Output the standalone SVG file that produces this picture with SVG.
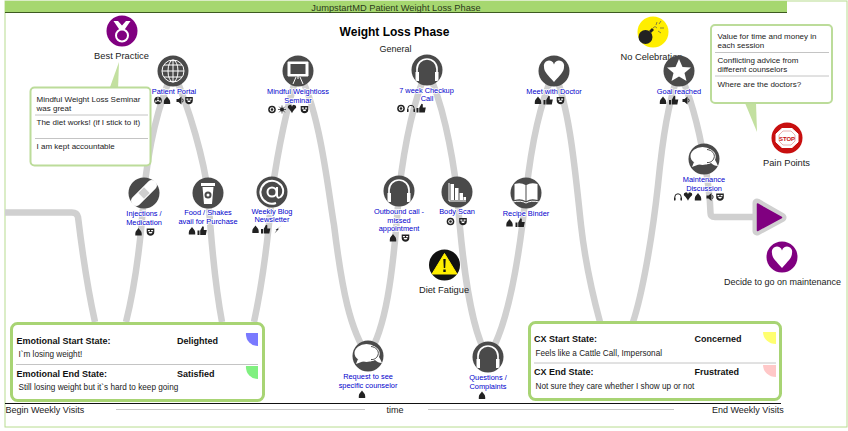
<svg xmlns="http://www.w3.org/2000/svg" xmlns:xlink="http://www.w3.org/1999/xlink" width="848" height="431" viewBox="0 0 848 431">
<style>
text{font-family:"Liberation Sans",Arial,sans-serif;fill:#222}
.c{text-anchor:middle}
.lb{font-size:7.400px;fill:#0000cc;text-anchor:middle;paint-order:stroke;stroke:#fff;stroke-width:1.500px}
.t{font-size:9.300px;text-anchor:middle}
.b{font-size:8px}
.h{font-size:9px;font-weight:bold;fill:#111}
.s{font-size:8.200px}
.conn{fill:none;stroke:#d0d0d0;stroke-width:6.500}
.disc{fill:#4a4a4a}
.w{fill:#fff}
.box{fill:#fff;stroke:#a8d474;stroke-width:3}
.sep{stroke:#c4c4c4;stroke-width:1}
.ic{fill:#222}
</style>
<defs>
<g id="i-f"><path class="ic" d="M0-4C1-2 3.200-1 3.200 1.500V3.500H-3.200V1.500C-3.200-1-1-2 0-4Z"/></g>
<g id="i-t"><path class="ic" d="M-4.500-.5H-2.500V4H-4.500ZM-1.800-.5L.5-4.800 1.800-4.300V-1H4.800L3.800 4H-1.800Z"/></g>
<g id="i-m"><path class="ic" d="M-3.800-3.500H3.800V0C3.800 2.500 2 3.800 0 3.800S-3.800 2.500-3.800 0Z"/><path class="w" d="M-2.600-2H-.6V-.8H-2.600ZM.6-2H2.600V-.8H.6ZM-2-.0H2L1 1.500H-1Z"/></g>
<g id="i-s"><path class="ic" d="M-3.500-1.500H-1.500L1.500-4V4L-1.500 1.500H-3.500Z"/><path d="M2.500-1.800Q3.800 0 2.500 1.800" fill="none" stroke="#222" stroke-width="1"/></g>
<g id="i-r"><circle r="3.800" class="ic"/><circle r="1" class="w"/><path class="w" d="M-.5-3.300H.5V-1.500H-.5ZM-3-.0L-1.500 0 -1.200 1 -2.400 2.200ZM3 0L1.500 0 1.200 1 2.400 2.200Z"/></g>
<g id="i-o"><circle r="3.800" class="ic"/><circle r="2.300" class="w"/><circle r="1.300" class="ic"/></g>
<g id="i-u"><circle r="2" class="ic"/><path d="M0-4V4M-4 0H4M-2.800-2.800L2.800 2.800M-2.800 2.800L2.800-2.800" stroke="#222" stroke-width=".7"/></g>
<g id="i-h"><path class="ic" d="M0 3.800C-2-.5-4.200-1-4.200-2.200A2.100 2.100 0 0 1 0-2.800A2.100 2.100 0 0 1 4.200-2.200C4.200-1 2-.5 0 3.800Z"/></g>
<g id="i-p"><path d="M-3.200 3V0A3.200 3.200 0 0 1 3.200 0V3" fill="none" stroke="#222" stroke-width="1"/><path class="ic" d="M-4 .8H-2.600V3.600H-4ZM2.600 .8H4V3.600H2.600Z"/></g>
<g id="i-b"><path class="ic" d="M3.500-4L-.5-.8H1L-3.500 4 -1.200 .5H-2.500Z"/></g>
<g id="big-head"><path d="M-10 6V-1A10 10 0 0 1 10-1V6" fill="none" stroke="#fff" stroke-width="1.700"/><path fill="#fff" d="M-11.500 2H-8V11H-10C-11 11-11.500 10-11.500 9ZM8 2H11.500V9C11.500 10 11 11 10 11H8Z"/></g>
<g id="big-chat"><ellipse cx="-1.500" cy="-2" rx="12" ry="9" fill="#fff"/><path d="M2-9.500C10-9 13.500-3 11 2C13 5 13 6 14 8C11 8 9 7 7 5C4 7 0 6 -2 5" fill="#fff"/><path d="M-10 4L-12 9 -4 6Z" fill="#fff"/><path d="M3-8.500C8-8 11.500-4 10 0C9 3 6 5 3 4.500" fill="none" stroke="#4a4a4a" stroke-width="1"/></g>
</defs>

<g id="frame">
<rect x="5" y="1" width="842" height="426" fill="#fff" stroke="#b8dc90" stroke-width="1"/>
<rect x="5" y="1" width="782" height="11.500" fill="#a6d770"/>
<path d="M5 12.500H787" stroke="#3d5a20" stroke-width="1"/>
<text x="396" y="10.500" class="c" style="font-size:9.300px;fill:#2b3a1a">JumpstartMD Patient Weight Loss Phase</text>
<text x="394.500" y="36" class="c" style="font-size:12px;font-weight:bold;fill:#000">Weight Loss Phase</text>
<text x="395.500" y="52" class="c" style="font-size:9px">General</text>
</g>

<g id="connectors">
<path class="conn" d="M5 212.500H72Q77 212.500 78 217C82 250 89 295 95 322"/>
<path class="conn" d="M126 322C134 290 141 240 144 193C148 150 156 110 173 71"/>
<path class="conn" d="M173 71C190 110 204 160 208 193C211 240 216 290 222 322"/>
<path class="conn" d="M254 322C262 285 268 240 272 192C278 150 286 110 298 71"/>
<path class="conn" d="M298 71C320 110 328 190 334 225C342 290 350 330 368 356"/>
<path class="conn" d="M368 356C385 330 393 280 399 191C405 140 414 100 427 70"/>
<path class="conn" d="M427 70C442 100 452 150 457 192C462 260 470 330 488 357"/>
<path class="conn" d="M488 357C506 330 518 270 526 193C532 140 540 105 554 71"/>
<path class="conn" d="M554 71C570 110 575 170 581 225C586 270 594 300 600 322"/>
<path class="conn" d="M633 322C642 295 652 240 658 185C663 135 668 105 679 71"/>
<path class="conn" d="M679 71C692 100 700 135 704 159C708 180 710 195 710.500 213Q710.500 217 715 217H760"/>
<path d="M757 203L782 217.500 757 231Z" fill="#d0d0d0" stroke="#d0d0d0" stroke-width="9" stroke-linejoin="round"/>
<path d="M757.500 204L781.500 217.500 757.500 230.500Z" fill="#800080" stroke="#800080" stroke-width="1.500" stroke-linejoin="round"/>
</g>

<g id="n-best-practice">
<circle cx="122" cy="31" r="15.500" fill="#800080"/>
<path d="M113.500 21L119 29H125L130.500 21H126L122 25.500 118 21Z" fill="#fff"/>
<circle cx="122" cy="35.500" r="6" fill="#800080" stroke="#fff" stroke-width="2"/>
<text x="121.500" y="59" class="t">Best Practice</text>
</g>
<g id="n-best-callout">
<path d="M109 90L119 62 118 90Z" fill="#c3e0a0"/>
<rect x="30.500" y="87.500" width="120" height="78" rx="4" fill="#fff" stroke="#bcdc9a" stroke-width="2"/>
<text x="36.500" y="101.500" class="b">Mindful Weight Loss Seminar</text>
<text x="36.500" y="111" class="b">was great</text>
<line x1="35" y1="115" x2="148" y2="115" class="sep"/>
<text x="36.500" y="125" class="b">The diet works! (if I stick to it)</text>
<line x1="35" y1="138.500" x2="148" y2="138.500" class="sep"/>
<text x="36.500" y="149" class="b">I am kept accountable</text>
</g>

<g id="n-patient-portal">
<circle cx="173" cy="71" r="15.500" class="disc"/>
<circle cx="173" cy="71" r="11" fill="none" stroke="#fff" stroke-width="1"/>
<ellipse cx="173" cy="71" rx="5" ry="11" fill="none" stroke="#fff" stroke-width="1"/>
<path d="M173 60V82M162 71H184M164 65H182M164 77H182" stroke="#fff" stroke-width="1"/>
<text x="174" y="94" class="lb">Patient Portal</text>
<use href="#i-r" x="158" y="100.500"/><use href="#i-f" x="167" y="100.500"/><use href="#i-s" x="180" y="100.500"/><use href="#i-m" x="189" y="100.500"/>
</g>

<g id="n-mindful-seminar">
<circle cx="298" cy="71" r="15.500" class="disc"/>
<path d="M288 62H308V76H288ZM298 76V79M293 84L296 77M303 84L300 77" fill="#fff" stroke="#fff"/>
<rect x="290.500" y="64" width="15" height="10" fill="#4a4a4a"/>
<text x="298" y="94" class="lb">Mindful Weightloss</text>
<text x="298" y="103" class="lb">Seminar</text>
<use href="#i-o" x="272" y="109.500"/><use href="#i-u" x="282" y="109.500"/><use href="#i-h" x="292" y="109.500"/><use href="#i-m" x="304.500" y="109.500"/>
</g>

<g id="n-checkup">
<circle cx="427" cy="70" r="15.500" class="disc"/>
<use href="#big-head" x="427" y="70"/>
<text x="426.500" y="92.500" class="lb">7 week Checkup</text>
<text x="427" y="101" class="lb">Call</text>
<use href="#i-o" x="401" y="108.500"/><use href="#i-p" x="411" y="108.500"/><use href="#i-t" x="421" y="108.500"/>
</g>

<g id="n-meet-doctor">
<circle cx="554" cy="71" r="15.500" class="disc"/>
<path d="M554 82C548 75 544 72 544 67A5 5 0 0 1 554 64.500A5 5 0 0 1 564 67C564 72 560 75 554 82Z" fill="#fff"/>
<text x="554" y="94" class="lb">Meet with Doctor</text>
<use href="#i-f" x="538" y="100.500"/><use href="#i-t" x="548" y="100.500"/><use href="#i-m" x="560.500" y="100.500"/>
</g>

<g id="n-no-celebration">
<circle cx="653" cy="32" r="15.500" fill="#ffee00"/>
<circle cx="645.500" cy="37" r="7" fill="#222"/>
<path d="M649 31L652 28 654 30 651 33Z" fill="#222"/>
<path d="M653 28Q655 25 657 28M659 24L661 21M660 28H664M658 31L661 33M657 22L656 25" fill="none" stroke="#555" stroke-width=".7"/>
<text x="651.500" y="60" class="t">No Celebration</text>
</g>

<g id="n-goal-reached">
<circle cx="679" cy="71" r="15.500" class="disc"/>
<path d="M679 59L682.500 67 691 67.500 684.500 73 686.500 81 679 76.500 671.500 81 673.500 73 667 67.500 675.500 67Z" fill="#fff"/>
<text x="679" y="94" class="lb">Goal reached</text>
<use href="#i-f" x="663" y="100.500"/><use href="#i-t" x="673.500" y="100.500"/><use href="#i-s" x="686" y="100.500"/>
</g>

<g id="n-pain-callout">
<path d="M745 103L757 132 756 103Z" fill="#c3e0a0"/>
<rect x="711" y="25" width="121" height="78" rx="4" fill="#fff" stroke="#bcdc9a" stroke-width="2"/>
<text x="717.500" y="39" class="b">Value for time and money in</text>
<text x="717.500" y="48" class="b">each session</text>
<line x1="715" y1="52.500" x2="829" y2="52.500" class="sep"/>
<text x="717.500" y="63" class="b">Conflicting advice from</text>
<text x="717.500" y="72" class="b">different counselors</text>
<line x1="715" y1="76" x2="829" y2="76" class="sep"/>
<text x="717.500" y="86.500" class="b">Where are the doctors?</text>
</g>

<g id="n-pain-points">
<circle cx="787" cy="138" r="15.500" fill="#c80f0f"/>
<path d="M782 128.500H792L798 134V142L792 147.500H782L776 142V134Z" fill="#fff" stroke="#fff"/>
<path d="M783 131H791L795 135V141L791 145H783L779 141V135Z" fill="#fff" stroke="#e8b0b0" stroke-width="1"/>
<text x="787" y="140.500" class="c" style="font-size:6px;font-weight:bold;fill:#c80f0f">STOP</text>
<text x="786.500" y="166" class="t">Pain Points</text>
</g>

<g id="n-maintenance">
<circle cx="704" cy="159" r="15.500" class="disc"/>
<use href="#big-chat" x="704" y="158"/>
<text x="704" y="181.500" class="lb">Maintenance</text>
<text x="704" y="190.500" class="lb">Discussion</text>
<use href="#i-p" x="678" y="197"/><use href="#i-h" x="688" y="197"/><use href="#i-f" x="698" y="197"/><use href="#i-s" x="710" y="197"/><use href="#i-m" x="720" y="197"/>
</g>

<g id="n-decide">
<circle cx="782" cy="257" r="15.500" fill="#800080"/>
<path d="M782 268C776 261 772 258 772 253A5 5 0 0 1 782 250.500A5 5 0 0 1 792 253C792 258 788 261 782 268Z" fill="#fff"/>
<text x="782.500" y="285" class="c" style="font-size:9px">Decide to go on maintenance</text>
</g>

<g id="n-injections">
<circle cx="144" cy="193" r="15.500" class="disc"/>
<rect x="128" y="188" width="32" height="10" rx="4.500" transform="rotate(-45 144 193)" fill="#fff"/>
<rect x="140" y="189" width="8" height="8" transform="rotate(-45 144 193)" fill="#cfcfcf"/>
<text x="144" y="216" class="lb">Injections /</text>
<text x="144" y="224.500" class="lb">Medication</text>
<use href="#i-f" x="138.500" y="232"/><use href="#i-m" x="150.500" y="232"/>
</g>

<g id="n-food">
<circle cx="208" cy="193" r="15.500" class="disc"/>
<path d="M201 183H215V186H201ZM202.500 187H213.500L212 204H204Z" fill="#fff"/>
<circle cx="208" cy="195" r="3.500" fill="#4a4a4a"/><circle cx="208" cy="195" r="1.500" fill="#fff"/>
<text x="208" y="215" class="lb">Food / Shakes</text>
<text x="208" y="224" class="lb">avail for Purchase</text>
<use href="#i-f" x="192" y="231"/><use href="#i-t" x="202" y="231"/>
</g>

<g id="n-blog">
<circle cx="272" cy="192" r="15.500" class="disc"/>
<circle cx="272" cy="192" r="4.500" fill="none" stroke="#fff" stroke-width="2"/>
<path d="M277 187V195Q277 199 280.500 197Q284 194 283 189A11.500 11.500 0 1 0 276 203" fill="none" stroke="#fff" stroke-width="2"/>
<text x="272" y="214" class="lb">Weekly Blog</text>
<text x="272" y="222" class="lb">Newsletter</text>
<use href="#i-f" x="255.500" y="229.500"/><use href="#i-t" x="265.500" y="229.500"/><use href="#i-b" x="278" y="229.500"/>
</g>

<g id="n-outbound">
<circle cx="399" cy="191" r="15.500" class="disc"/>
<use href="#big-head" x="399" y="191"/>
<text x="399" y="214" class="lb">Outbound call -</text>
<text x="399" y="222.500" class="lb">missed</text>
<text x="399" y="231" class="lb">appointment</text>
<use href="#i-f" x="393" y="238"/><use href="#i-m" x="405.500" y="238"/>
</g>

<g id="n-body-scan">
<circle cx="457" cy="192" r="15.500" class="disc"/>
<path d="M449 183V201H466" fill="none" stroke="#fff" stroke-width="1"/>
<path d="M450.500 184H454V200H450.500ZM455 188H458.500V200H455ZM459.500 193H463V200H459.500ZM463.500 197H466V200H463.500Z" fill="#fff"/>
<text x="457" y="214" class="lb">Body Scan</text>
<use href="#i-o" x="450.500" y="221.500"/><use href="#i-m" x="463" y="221.500"/>
</g>

<g id="n-recipe">
<circle cx="526" cy="193" r="15.500" class="disc"/>
<path d="M514.500 184Q521 182 525.500 185V201Q521 198 514.500 200ZM537.500 184Q531 182 526.500 185V201Q531 198 537.500 200Z" fill="#fff"/>
<path d="M513 202Q521 200 526 203Q531 200 539 202" fill="none" stroke="#fff"/>
<text x="526" y="216" class="lb">Recipe Binder</text>
<use href="#i-f" x="509.500" y="223"/><use href="#i-t" x="520" y="223"/>
</g>

<g id="n-diet-fatigue">
<circle cx="444.500" cy="265" r="15.500" fill="#111"/>
<path d="M444.500 253.500L457 274H432Z" fill="#ffee00" stroke="#ffee00" stroke-linejoin="round"/>
<path d="M443.300 259H445.700L445.200 268H443.800ZM443.300 269.500H445.700V272H443.300Z" fill="#111"/>
<text x="444" y="292.500" class="t">Diet Fatigue</text>
</g>

<g id="n-request">
<circle cx="368" cy="356" r="15.500" class="disc"/>
<use href="#big-chat" x="368" y="355"/>
<text x="368" y="379" class="lb">Request to see</text>
<text x="368" y="387.500" class="lb">specific counselor</text>
<use href="#i-f" x="362" y="394.500"/>
</g>

<g id="n-questions">
<circle cx="488" cy="357" r="15.500" class="disc"/>
<use href="#big-head" x="488" y="357"/>
<text x="488" y="380" class="lb">Questions /</text>
<text x="488" y="388.500" class="lb">Complaints</text>
<use href="#i-f" x="482" y="395.500"/>
</g>

<g id="timeline">
<path d="M5 403.500H781" stroke="#111" stroke-width="1"/>
<path d="M116 409.500H365M428 409.500H674" stroke="#c8c8c8" stroke-width="1"/>
<text x="5.500" y="413" style="font-size:9px">Begin Weekly Visits</text>
<text x="395" y="413" class="c" style="font-size:9px">time</text>
<text x="712" y="413" style="font-size:9px">End Weekly Visits</text>
</g>

<g id="n-emotional-state">
<rect x="11.500" y="323.500" width="252" height="77" rx="6" class="box"/>
<text x="16.500" y="343.500" class="h">Emotional Start State:</text>
<text x="177" y="343.500" class="h">Delighted</text>
<path d="M246 333H258V346A12 12 0 0 1 246 333Z" fill="#7a7aff"/>
<text x="18.500" y="357" class="s">I`m losing weight!</text>
<line x1="16" y1="364.500" x2="258" y2="364.500" class="sep"/>
<text x="16.500" y="376.500" class="h">Emotional End State:</text>
<text x="177" y="376.500" class="h">Satisfied</text>
<path d="M246 366H258V379A12 12 0 0 1 246 366Z" fill="#80f080"/>
<text x="18.500" y="390" class="s">Still losing weight but it`s hard to keep going</text>
</g>

<g id="n-cx-state">
<rect x="529.500" y="322.500" width="251" height="77" rx="6" class="box"/>
<text x="534" y="342" class="h">CX Start State:</text>
<text x="694.500" y="342" class="h">Concerned</text>
<path d="M763 332H776V344A13 12 0 0 1 763 332Z" fill="#ffff70"/>
<text x="535.500" y="356" class="s">Feels like a Cattle Call, Impersonal</text>
<line x1="534" y1="363" x2="776" y2="363" class="sep"/>
<text x="534" y="375" class="h">CX End State:</text>
<text x="694.500" y="375" class="h">Frustrated</text>
<path d="M763 365H776V377A13 12 0 0 1 763 365Z" fill="#ffc8c8"/>
<text x="535.500" y="389" class="s">Not sure they care whether I show up or not</text>
</g>
</svg>
